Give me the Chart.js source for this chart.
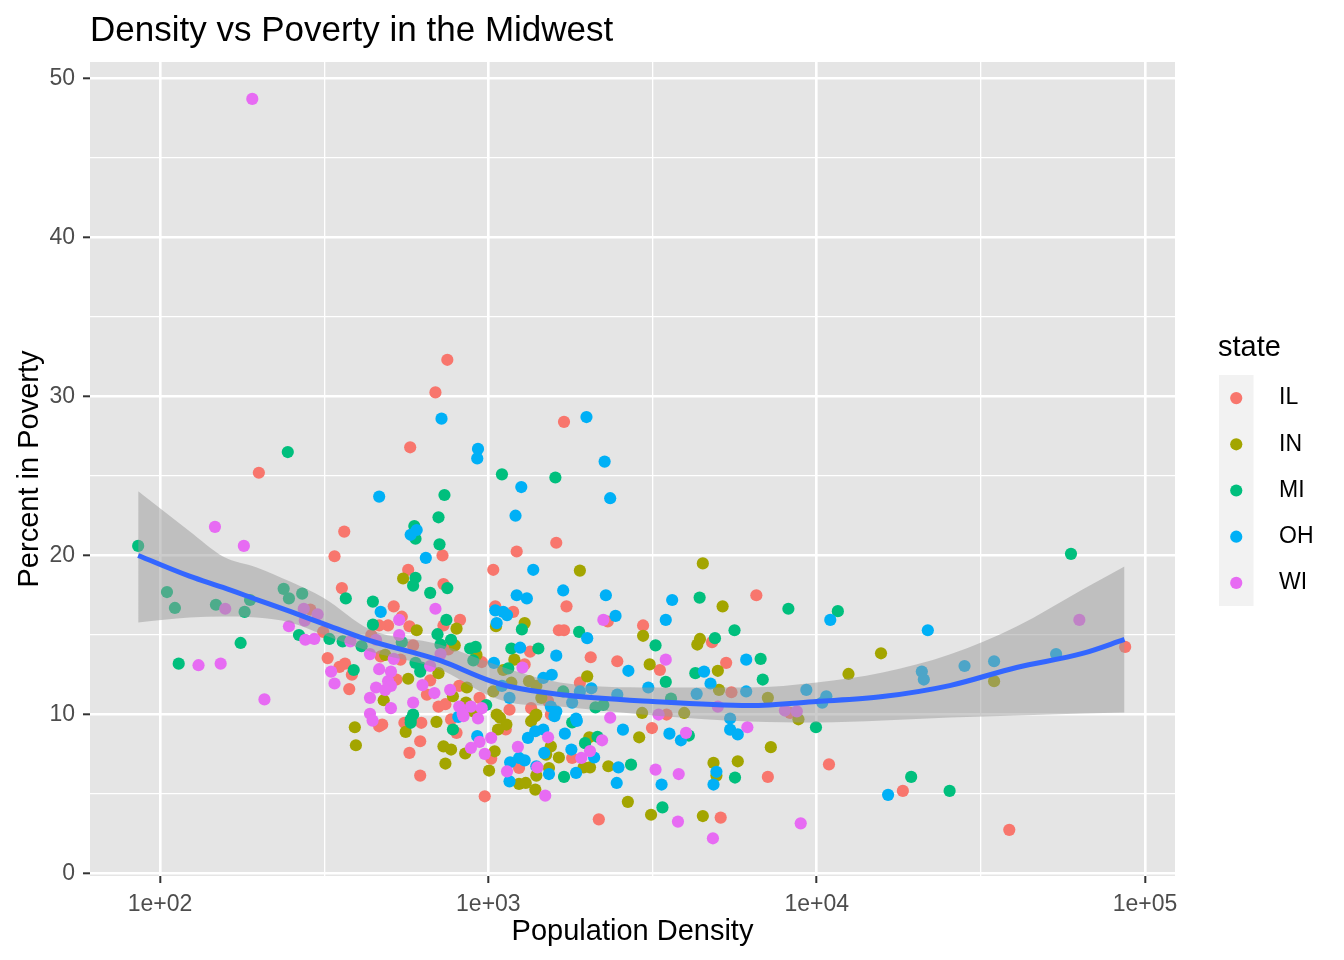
<!DOCTYPE html>
<html lang="en">
<head>
    <meta charset="UTF-8">
    <title>Density vs Poverty in the Midwest</title>
    <script src="https://cdn.jsdelivr.net/npm/chart.js"></script>
    <style>
        html, body { margin: 0; padding: 0; background: #fff; }
        canvas { display: block; }
    </style>
</head>
<body>
    <canvas id="chart" width="1344" height="960"></canvas>

    <script>
    // state order as drawn by ggplot (first = bottom)
    const states = ['IL', 'IN', 'MI', 'OH', 'WI'];

    // population density / percent below poverty
    const ilDensity = [
        750, 690, 1700, 578, 200, 364, 340, 725, 1220, 1610,
        287, 358, 314, 324, 352, 366, 384, 377,
        570, 1035, 730, 515, 545, 1050, 1190, 1640, 820, 730, 495, 465, 575, 755, 955, 1340, 1290, 1520,
        1550, 1350, 1160, 815, 740, 705, 940, 665, 650, 590, 470, 540, 440, 525,
        1730, 2310, 2960, 1700, 4800, 2050, 2470, 3330, 5300, 5500, 1900, 3490,
        6550, 87000, 8300, 10900, 7100, 18300, 38600, 3150, 1800, 2170, 5100,
        465, 475, 555, 625, 620, 575, 620, 770, 800, 1020, 975, 1130, 1240
    ];
    const ilPoverty = [
        32.3, 30.25, 28.4, 26.8, 25.2, 21.5, 19.95, 20.0, 20.25, 20.8,
        16.6, 17.95, 15.2, 13.55, 13.0, 13.2, 12.5, 11.6,
        19.1, 19.1, 18.2, 16.8, 16.15, 16.8, 16.45, 15.3, 15.95, 15.6, 15.6, 15.6, 15.55, 14.1, 13.3, 13.95, 13.15, 10.85,
        10.0, 10.4, 10.3, 11.8, 10.65, 10.5, 11.05, 12.15, 11.25, 14.35, 13.65, 13.45, 15.0, 12.2,
        16.8, 15.85, 15.6, 15.3, 14.55, 13.6, 13.35, 12.8, 13.25, 11.4, 12.0, 10.0,
        17.5, 14.25, 10.1, 6.87, 6.08, 5.2, 2.75, 9.15, 7.27, 3.41, 3.52,
        9.26, 9.37, 9.48, 9.48, 8.32, 7.59, 6.16, 9.69, 8.85, 7.23, 4.86, 9.06, 6.64
    ];

    const inDensity = [
        550, 1055, 1290, 800, 605, 790, 705, 920, 1200, 1110, 1175, 1330, 1400, 1450, 1400, 1035, 1060, 860, 780, 855, 900, 485, 570, 480,
        392, 395,
        1900, 4500, 5170, 2960, 4330, 4410, 3100, 2000, 5000, 5040, 2940, 3950,
        15700, 12500, 34700, 7100, 8800, 7250,
        2880, 2030, 1640, 1950, 2040, 2320, 4850, 4950, 5750, 2660, 3130, 4500,
        560, 695, 730, 770, 740, 850, 1045, 1005, 1085, 1135, 1070, 1240, 1300, 1390, 1550, 1500, 1400, 1530, 1350, 1390
    ];
    const inPoverty = [
        18.55, 15.55, 15.75, 15.4, 15.3, 14.35, 12.6, 13.75, 13.45, 12.8, 12.0, 12.1, 11.8, 11.05, 10.0, 11.45, 10.0, 11.7, 11.15, 10.75, 10.2, 13.75, 12.25, 10.9,
        9.2, 8.07,
        19.05, 19.5, 16.8, 14.95, 14.4, 14.75, 13.15, 12.4, 12.75, 11.55, 10.1, 10.1,
        13.85, 12.55, 12.1, 11.05, 9.7, 7.95,
        8.57, 8.57, 7.3, 6.68, 6.68, 6.75, 6.96, 6.16, 7.06, 4.51, 3.7, 3.62,
        8.91, 9.54, 8.0, 7.8, 6.92, 7.55, 7.69, 6.48, 9.8, 9.37, 9.06, 5.64, 5.7, 5.28, 8.0, 7.48, 6.16, 6.64, 9.58, 9.9
    ];

    const miDensity = [
        245, 1100, 1600, 735, 705, 595, 600, 710, 85.8, 59500,
        105, 111, 148, 188, 181, 238, 247, 271, 368, 265, 328, 360, 411, 176, 114, 389, 445, 445,
        600, 590, 750, 665, 1265, 745, 700, 770, 715, 880, 915, 900, 1175, 1420, 1150, 985, 600, 625, 620, 545, 590,
        4400, 1890, 3230, 4900, 5620, 3470, 4270, 3600, 1690, 2120, 2240,
        8200, 11600, 6750, 6850, 9950, 19400, 25400,
        1800, 4080, 2150, 1970, 1700, 2720, 5640, 3390, 580, 580, 780
    ];
    const miPoverty = [
        26.5, 25.1, 24.9, 23.8, 22.4, 21.85, 21.05, 20.7, 20.6, 20.1,
        17.7, 16.7, 16.9, 17.2, 16.45, 17.9, 17.3, 17.6, 17.3, 15.0, 14.75, 14.6, 14.3, 14.5, 13.2, 12.8, 17.1, 15.65,
        18.6, 18.1, 17.95, 17.65, 15.35, 15.95, 15.05, 14.7, 14.4, 14.15, 14.25, 13.4, 14.15, 14.15, 12.9, 10.6, 13.25, 12.95, 12.7, 14.55, 10.0,
        17.35, 15.2, 14.35, 14.8, 15.3, 12.05, 12.6, 11.0, 11.45, 10.45, 10.6,
        16.65, 16.5, 13.5, 12.2, 9.2, 6.08, 5.2,
        9.5, 8.68, 8.6, 8.2, 6.08, 6.85, 6.04, 4.16, 9.69, 9.48, 9.06
    ];

    const ohDensity = [
        720, 1990, 930, 925, 2260, 1260, 2350, 465, 1210, 580, 605, 645,
        1370, 1220, 1310, 470, 1050, 1110, 1140, 1060, 1250, 1610, 1040, 1470, 1560, 1550, 1610, 1160, 1100,
        1690, 2280, 3630, 2440, 3470, 2000, 2670, 6100, 4540, 4750, 6100, 4310, 3070, 2470, 2060, 1900, 1800, 5450, 1850,
        11000, 21800, 20900, 21200, 28200, 34700, 53600, 9300, 10700, 10400, 16500,
        1860, 5450, 5750, 1710, 2570, 3560, 3860, 1790, 2100, 1850, 2490, 2460, 3370, 4950, 4850,
        810, 925, 1165, 1240, 1290, 1160, 1320, 1390, 1470, 1480, 1400, 1530, 1590
    ];
    const ohPoverty = [
        28.6, 28.7, 26.7, 26.1, 25.9, 24.3, 23.6, 23.7, 22.5, 21.3, 21.6, 19.85,
        19.1, 17.5, 17.3, 16.45, 16.55, 16.45, 16.25, 15.75, 14.2, 13.7, 13.25, 12.3, 12.5, 10.5, 10.2, 11.05, 11.8,
        17.8, 17.5, 17.2, 16.2, 15.95, 14.8, 12.75, 13.45, 12.7, 11.95, 11.45, 11.3, 11.7, 11.25, 11.65, 11.45, 10.75, 9.75, 9.75,
        15.95, 15.3, 12.7, 12.2, 13.05, 13.35, 13.8, 11.55, 11.15, 10.75, 4.95,
        9.6, 9.05, 8.75, 8.8, 9.05, 8.8, 8.38, 7.8, 7.3, 6.33, 6.68, 5.7, 5.6, 6.4, 5.6,
        9.85, 8.64, 7.0, 7.27, 7.12, 5.8, 8.53, 8.95, 9.06, 7.59, 6.75, 6.26, 9.9
    ];

    const wiDensity = [
        191, 147, 180,
        158, 274, 302, 276, 247, 277, 295, 380, 436, 131, 153, 332, 340, 208, 436, 436,
        690, 535, 535, 715, 1270, 765, 815, 885, 955, 835, 630, 685, 665, 505, 465, 515, 455, 495, 505, 455, 485, 505, 590,
        2240, 3470, 3300, 5000, 2350, 63100, 8000, 8700, 6150, 8940,
        4000, 2220, 2040, 1920, 3230, 3800, 3780, 4830,
        444, 840, 930, 940, 885, 1020, 975, 1230, 1140, 1490, 1520, 1410
    ];
    const wiPoverty = [
        48.7, 21.8, 20.6,
        16.65, 16.65, 16.3, 15.9, 15.55, 14.7, 14.75, 14.6, 13.8, 13.1, 13.2, 12.7, 11.95, 10.95, 11.05, 10.05,
        16.65, 15.95, 15.0, 13.8, 12.95, 11.55, 10.5, 10.5, 10.4, 10.05, 11.85, 11.35, 13.05, 12.7, 12.85, 13.5, 14.7, 12.1, 11.8, 11.7, 11.55, 10.4, 10.75,
        15.95, 13.45, 10.0, 10.5, 9.8, 15.95, 10.25, 10.2, 9.2, 3.16,
        8.85, 8.38, 7.7, 7.27, 6.54, 6.26, 3.27, 2.22,
        9.62, 9.9, 9.75, 8.28, 7.9, 8.53, 7.53, 7.97, 6.43, 4.9, 8.57, 6.68
    ];

    // loess smooth with its confidence band
    const smoothX  = [85.8, 123, 155.5, 197, 249, 313.5, 436, 712, 989, 1163, 1650, 3168, 6252, 10000, 15880, 25400, 40630, 64520, 86600];
    const smoothY  = [20.0, 18.7, 17.99, 17.23, 16.48, 15.72, 14.65, 13.4, 12.2, 11.76, 11.26, 10.82, 10.57, 10.82, 11.13, 11.82, 12.96, 13.84, 14.72];
    const smoothHi = [24.03, 21.52, 19.94, 19.25, 18.36, 17.36, 15.35, 14.4, 13.33, 12.83, 12.01, 11.7, 11.7, 12.01, 12.64, 13.77, 15.53, 17.86, 19.31];
    const smoothLo = [15.79, 16.1, 16.16, 16.1, 15.79, 15.03, 13.96, 12.83, 11.26, 10.75, 10.5, 9.94, 9.56, 9.5, 9.62, 9.81, 9.94, 10.06, 10.13];

    // axes
    const xTickValues = [100, 1000, 10000, 100000];
    const xTickLabels = ['1e+02', '1e+03', '1e+04', '1e+05'];
    const xMinorValues = [316.228, 3162.28, 31622.8];
    const yTickValues = [0, 10, 20, 30, 40, 50];
    const yMinorValues = [5, 15, 25, 35, 45];

    const stateColors = { IL: '#F8766D', IN: '#A3A500', MI: '#00BF7D', OH: '#00B0F6', WI: '#E76BF3' };
    const FONT = '"Liberation Sans", Arial, Helvetica, sans-serif';
    const PT_R = 6.1;

    const densities = { IL: ilDensity, IN: inDensity, MI: miDensity, OH: ohDensity, WI: wiDensity };
    const poverties = { IL: ilPoverty, IN: inPoverty, MI: miPoverty, OH: ohPoverty, WI: wiPoverty };

    function zip(xs, ys) {
        return xs.map((x, i) => ({ x: x, y: ys[i] }));
    }

    const pointSets = states.map((s, i) => ({
        type: 'scatter',
        label: s,
        data: zip(densities[s], poverties[s]),
        backgroundColor: stateColors[s],
        borderWidth: 0,
        pointRadius: PT_R,
        pointHoverRadius: PT_R,
        order: 6 - i
    }));

    const ggTheme = {
        id: 'ggTheme',
        beforeDraw(chart) {
            const { ctx, chartArea: a } = chart;
            ctx.save();
            ctx.fillStyle = '#FFFFFF';
            ctx.fillRect(0, 0, chart.width, chart.height);
            ctx.fillStyle = '#E5E5E5';
            ctx.fillRect(a.left, a.top, a.right - a.left, a.bottom - a.top);
            ctx.restore();
        },
        afterDraw(chart) {
            const { ctx, chartArea: a } = chart;
            ctx.save();
            ctx.fillStyle = '#000000';

            // title
            ctx.font = '35px ' + FONT;
            ctx.textAlign = 'left';
            ctx.textBaseline = 'alphabetic';
            ctx.fillText('Density vs Poverty in the Midwest', a.left, 41);

            // axis titles
            ctx.font = '29px ' + FONT;
            ctx.textAlign = 'center';
            ctx.textBaseline = 'middle';
            ctx.fillText('Population Density', (a.left + a.right) / 2, 932);
            ctx.save();
            ctx.translate(30, (a.top + a.bottom) / 2);
            ctx.rotate(-Math.PI / 2);
            ctx.fillText('Percent in Poverty', 0, 0);
            ctx.restore();

            // legend
            const keyX = 1219, keyW = 34.5, keyTop = 375, keyH = 46.2;
            ctx.textAlign = 'left';
            ctx.font = '29px ' + FONT;
            ctx.fillText('state', 1218, 348);
            ctx.fillStyle = '#F2F2F2';
            ctx.fillRect(keyX, keyTop, keyW, keyH * states.length);
            ctx.font = '23px ' + FONT;
            states.forEach((s, i) => {
                const cy = keyTop + keyH * (i + 0.5);
                ctx.fillStyle = stateColors[s];
                ctx.beginPath();
                ctx.arc(keyX + keyW / 2, cy, PT_R, 0, Math.PI * 2);
                ctx.fill();
                ctx.fillStyle = '#000000';
                ctx.fillText(s, 1279, cy);
            });
            ctx.restore();
        }
    };

    const isMajorX = v => xTickValues.some(t => Math.abs(t - v) < 1e-6 * t);
    const isMajorY = v => v % 10 === 0;

    new Chart(document.getElementById('chart'), {
        type: 'scatter',
        data: {
            datasets: [
                {
                    type: 'line',
                    label: 'loess',
                    data: zip(smoothX, smoothY),
                    borderColor: '#3366FF',
                    borderWidth: 5,
                    pointRadius: 0,
                    fill: false,
                    cubicInterpolationMode: 'monotone',
                    order: 0
                },
                {
                    type: 'line',
                    label: 'upper',
                    data: zip(smoothX, smoothHi),
                    borderWidth: 0,
                    borderColor: 'rgba(0,0,0,0)',
                    backgroundColor: 'rgba(153,153,153,0.5)',
                    pointRadius: 0,
                    fill: '+1',
                    cubicInterpolationMode: 'monotone',
                    order: 1
                },
                {
                    type: 'line',
                    label: 'lower',
                    data: zip(smoothX, smoothLo),
                    borderWidth: 0,
                    borderColor: 'rgba(0,0,0,0)',
                    pointRadius: 0,
                    fill: false,
                    cubicInterpolationMode: 'monotone',
                    order: 1
                },
                ...pointSets
            ]
        },
        options: {
            responsive: false,
            animation: false,
            events: [],
            layout: { padding: { top: 62, right: 169, left: 0, bottom: 0 } },
            plugins: {
                legend: { display: false },
                tooltip: { enabled: false },
                title: { display: false }
            },
            scales: {
                x: {
                    type: 'logarithmic',
                    min: 61.2,
                    max: 123400,
                    afterBuildTicks: s => {
                        s.ticks = [...xTickValues, ...xMinorValues].sort((a, b) => a - b).map(v => ({ value: v }));
                    },
                    afterFit: s => { s.height = 84; },
                    border: { display: false },
                    grid: {
                        color: '#FFFFFF',
                        lineWidth: c => isMajorX(c.tick.value) ? 2.6 : 1.3,
                        tickColor: c => isMajorX(c.tick.value) ? '#333333' : 'rgba(0,0,0,0)',
                        tickLength: 7,
                        tickWidth: 2
                    },
                    ticks: {
                        autoSkip: false,
                        maxRotation: 0,
                        padding: 8,
                        color: '#4D4D4D',
                        font: { family: FONT, size: 23 },
                        callback: v => {
                            const i = xTickValues.findIndex(t => Math.abs(t - v) < 1e-6 * t);
                            return i >= 0 ? xTickLabels[i] : '';
                        }
                    }
                },
                y: {
                    type: 'linear',
                    min: -0.15,
                    max: 51.02,
                    afterBuildTicks: s => {
                        s.ticks = [...yTickValues, ...yMinorValues].sort((a, b) => a - b).map(v => ({ value: v }));
                    },
                    afterFit: s => { s.width = 90; },
                    border: { display: false },
                    grid: {
                        color: '#FFFFFF',
                        lineWidth: c => isMajorY(c.tick.value) ? 2.6 : 1.3,
                        tickColor: c => isMajorY(c.tick.value) ? '#333333' : 'rgba(0,0,0,0)',
                        tickLength: 7,
                        tickWidth: 2
                    },
                    ticks: {
                        autoSkip: false,
                        padding: 8,
                        color: '#4D4D4D',
                        font: { family: FONT, size: 23 },
                        callback: v => isMajorY(v) ? String(v) : ''
                    }
                }
            }
        },
        plugins: [ggTheme]
    });
    </script>
</body>
</html>
